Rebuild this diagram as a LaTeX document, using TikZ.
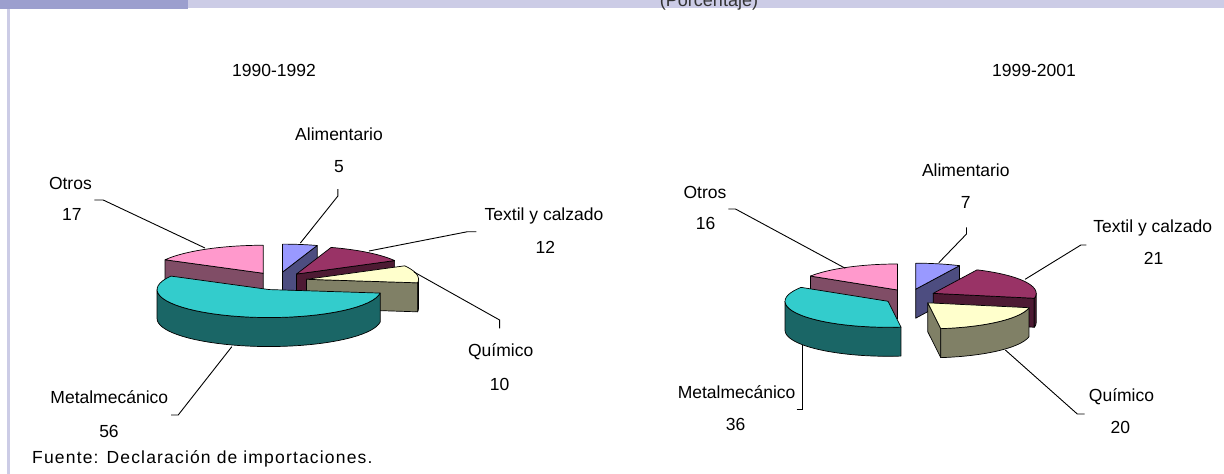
\documentclass[tikz,border=0pt]{standalone}
\usepackage{fontspec}
\setmainfont{Liberation Sans}
\newfontfamily\footfont[LetterSpace=6.7]{Liberation Sans}
\definecolor{barDark}{HTML}{9C9FCE}
\definecolor{barLight}{HTML}{CCCCE6}
\definecolor{aliTop}{HTML}{9999FF}\definecolor{aliSide}{HTML}{4D4D80}
\definecolor{texTop}{HTML}{993366}\definecolor{texSide}{HTML}{4D1A33}
\definecolor{quiTop}{HTML}{FFFFCC}\definecolor{quiSide}{HTML}{808066}
\definecolor{metTop}{HTML}{33CCCC}\definecolor{metSide}{HTML}{1A6666}
\definecolor{otrTop}{HTML}{FF99CC}\definecolor{otrSide}{HTML}{804D66}
\newcommand\SetPie[7]{\def\pcx{#1}\def\pcy{#2}\def\pa{#3}\def\pb{#4}\def\ph{#5}\def\pex{#6}\def\pey{#7}}
\newcommand\PieSlice[4]{%
  \pgfmathsetmacro\pmid{(#1+#2)/2}%
  \pgfmathsetmacro\pax{\pcx+\pex*sin(\pmid)}%
  \pgfmathsetmacro\pay{\pcy-\pey*cos(\pmid)}%
  \pgfmathsetmacro\pssin{sin(#1)}%
  \pgfmathsetmacro\pesin{sin(#2)}%
  \pgfmathsetmacro\pta{max(#1,90)}%
  \pgfmathsetmacro\ptb{min(#2,270)}%
  \ifdim\pssin pt<-0.001pt
    \filldraw[pieedge,fill=#4] ({\pax},{\pay}) -- ({\pax+\pa*sin(#1)},{\pay-\pb*cos(#1)}) -- ({\pax+\pa*sin(#1)},{\pay-\pb*cos(#1)+\ph}) -- ({\pax},{\pay+\ph}) -- cycle;
  \fi
  \ifdim\pesin pt>0.001pt
    \filldraw[pieedge,fill=#4] ({\pax},{\pay}) -- ({\pax+\pa*sin(#2)},{\pay-\pb*cos(#2)}) -- ({\pax+\pa*sin(#2)},{\pay-\pb*cos(#2)+\ph}) -- ({\pax},{\pay+\ph}) -- cycle;
  \fi
  \ifdim\pta pt<\ptb pt
    \filldraw[pieedge,fill=#4] plot[domain=\pta:\ptb,samples=40] ({\pax+\pa*sin(\x)},{\pay-\pb*cos(\x)}) -- plot[domain=\pta:\ptb,samples=40] ({\pax+\pa*sin(\pta+\ptb-\x)},{\pay-\pb*cos(\pta+\ptb-\x)+\ph}) -- cycle;
  \fi
  \filldraw[pieedge,fill=#3] ({\pax},{\pay}) -- plot[domain=#1:#2,samples=40] ({\pax+\pa*sin(\x)},{\pay-\pb*cos(\x)}) -- cycle;
}
\tikzset{
  pieedge/.style={draw=black,line width=0.7pt,line join=round},
  lbl/.style={font=\fontsize{17.5}{20}\selectfont,anchor=base,inner sep=0pt,text=black},
  leader/.style={draw=black,line width=0.9pt},
}
\begin{document}
\begin{tikzpicture}[x=1pt,y=-1pt]
\useasboundingbox (0,0) rectangle (1224,474);
\fill[white] (0,0) rectangle (1224,474);
% header bar and frame line
\fill[barLight] (0,0) rectangle (1224,7.5);
\fill[barDark] (0,0) rectangle (188,8.7);
\fill[barLight] (7.3,8.7) rectangle (10,474);
\node[font=\fontsize{18}{20}\selectfont,anchor=base,inner sep=0pt,text=black!80] (pct) at (709,6) {(Porcentaje)};

% ---------- left pie 1990-1992 ----------
\node[lbl] (t1) at (274,76) {1990-1992};
\SetPie{278}{281}{112}{28}{29}{29}{9}
\PieSlice{0}{18}{aliTop}{aliSide}
\PieSlice{298.8}{360}{otrTop}{otrSide}
\PieSlice{18}{61.2}{texTop}{texSide}
\PieSlice{61.2}{97.2}{quiTop}{quiSide}
\PieSlice{97.2}{298.8}{metTop}{metSide}

\node[lbl] (la1) at (339,140) {Alimentario};
\node[lbl] (lv1) at (339,172) {5};
\node[lbl] (la2) at (70.4,189) {Otros};
\node[lbl] (lv2) at (71.8,220.5) {17};
\node[lbl] (la3) at (544,220) {Textil y calzado};
\node[lbl] (lv3) at (545.4,253) {12};
\node[lbl] (la4) at (500.7,356) {Químico};
\node[lbl] (lv4) at (499.6,390) {10};
\node[lbl] (la5) at (109.3,403) {Metalmecánico};
\node[lbl] (lv5) at (109,437) {56};

\coordinate (a1) at (337.9,189); \coordinate (b1) at (337.9,196); \coordinate (c1) at (300.4,243);
\coordinate (a2) at (94.3,200); \coordinate (b2) at (103.2,200); \coordinate (c2) at (205,248);
\coordinate (a3) at (476.4,231.7); \coordinate (b3) at (467.5,231.7); \coordinate (c3) at (369,251);
\coordinate (a4) at (499.6,328.3); \coordinate (b4) at (499.6,320); \coordinate (c4) at (414,272);
\coordinate (a5) at (171,415); \coordinate (b5) at (178.2,415); \coordinate (c5) at (231.8,346.7);
\draw[leader] (a1) -- (b1) -- (c1);
\draw[leader] (a2) -- (b2) -- (c2);
\draw[leader] (a3) -- (b3) -- (c3);
\draw[leader] (a4) -- (b4) -- (c4);
\draw[leader] (a5) -- (b5) -- (c5);

% ---------- right pie 1999-2001 ----------
\node[lbl] (t2) at (1034,76) {1999-2001};
\SetPie{910}{297}{103}{26}{29}{26}{8}
\PieSlice{0}{25.2}{aliTop}{aliSide}
\PieSlice{302.4}{360}{otrTop}{otrSide}
\PieSlice{25.2}{100.8}{texTop}{texSide}
\PieSlice{172.8}{302.4}{metTop}{metSide}
\PieSlice{100.8}{172.8}{quiTop}{quiSide}

\node[lbl] (ra1) at (965.8,176.5) {Alimentario};
\node[lbl] (rv1) at (965.8,208) {7};
\node[lbl] (ra2) at (705,198) {Otros};
\node[lbl] (rv2) at (705.7,229) {16};
\node[lbl] (ra3) at (1152.7,232.3) {Textil y calzado};
\node[lbl] (rv3) at (1153.5,264) {21};
\node[lbl] (ra4) at (1121.5,401.5) {Químico};
\node[lbl] (rv4) at (1120.4,433) {20};
\node[lbl] (ra5) at (736.6,398) {Metalmecánico};
\node[lbl] (rv5) at (735.5,430) {36};

\coordinate (d1) at (966.5,227.3); \coordinate (e1) at (966.5,234); \coordinate (f1) at (938.8,262.7);
\coordinate (d2) at (728.3,209); \coordinate (e2) at (735.5,209); \coordinate (f2) at (845.3,268.3);
\coordinate (d3) at (1086.3,245); \coordinate (e3) at (1080.9,245); \coordinate (f3) at (1025.1,279.3);
\coordinate (d4) at (1084.5,414); \coordinate (e4) at (1077.3,414); \coordinate (f4) at (1005.3,350);
\coordinate (d5) at (796.7,409.3); \coordinate (e5) at (802.1,409.3); \coordinate (f5) at (802.1,345);
\draw[leader] (d1) -- (e1) -- (f1);
\draw[leader] (d2) -- (e2) -- (f2);
\draw[leader] (d3) -- (e3) -- (f3);
\draw[leader] (d4) -- (e4) -- (f4);
\draw[leader] (d5) -- (e5) -- (f5);

% footnote
\node[font=\fontsize{17.5}{20}\footfont,anchor=base west,inner sep=0pt] (src) at (32,463) {Fuente: Declaración de importaciones.};
\end{tikzpicture}
\end{document}
